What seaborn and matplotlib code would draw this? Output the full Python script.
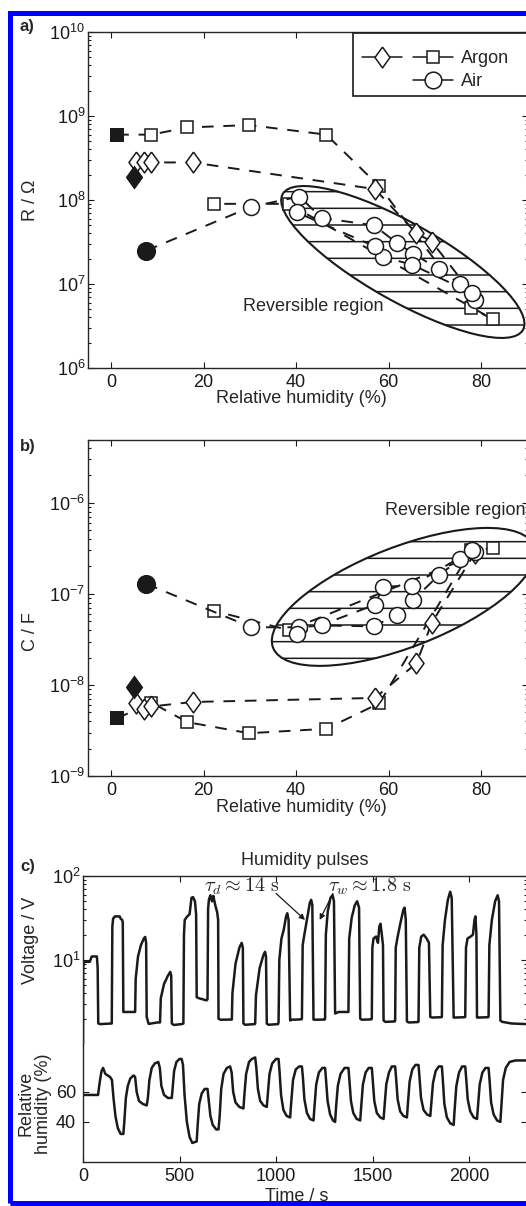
import matplotlib
matplotlib.use("Agg")
import matplotlib.pyplot as plt
import matplotlib.transforms as mtransforms
from matplotlib.patches import Ellipse, Rectangle
from matplotlib.lines import Line2D
from matplotlib.legend_handler import HandlerTuple
from matplotlib.ticker import NullFormatter
import seaborn as sns

# panel a/b points: relative humidity (%), resistance (Ohm), capacitance (F)
rh_sq = [1.3, 8.7, 16.5, 29.8, 46.5, 58.0, 77.8, 82.5, 38.4, 22.3]
r_sq = [6.0e8, 6.0e8, 7.3e8, 7.8e8, 6.0e8, 1.45e8, 5.2e6, 3.8e6, 9.0e7, 9.0e7]
c_sq = [4.3e-9, 6.4e-9, 3.9e-9, 2.95e-9, 3.3e-9, 6.3e-9, 3.0e-7, 3.2e-7, 4.0e-8, 6.5e-8]

rh_di = [4.9, 5.3, 7.0, 8.7, 17.6, 57.0, 66.0, 69.3, 78.6]
r_di = [1.9e8, 2.8e8, 2.8e8, 2.8e8, 2.8e8, 1.35e8, 4.0e7, 3.2e7, 7.0e6]
c_di = [9.5e-9, 6.3e-9, 5.4e-9, 5.8e-9, 6.5e-9, 7.2e-9, 1.73e-8, 4.8e-8, 2.8e-7]

rh_air = [7.6, 30.3, 40.7, 45.5, 56.8, 61.7, 65.3, 70.8, 75.4, 78.6, 78.0, 65.0, 58.8, 57.0, 40.2]
r_air = [2.5e7, 8.3e7, 1.1e8, 6.1e7, 5.0e7, 3.1e7, 2.3e7, 1.5e7, 1.0e7, 6.4e6, 7.8e6,
         1.7e7, 2.1e7, 2.8e7, 7.1e7]
c_air = [1.29e-7, 4.3e-8, 4.3e-8, 4.5e-8, 4.4e-8, 5.9e-8, 8.6e-8, 1.6e-7, 2.4e-7, 2.9e-7,
         3.0e-7, 1.23e-7, 1.2e-7, 7.6e-8, 3.6e-8]

# panel c: voltage trace (s, V)
v_t = [0, 1, 4, 35, 45, 72, 76, 79, 90, 145,
       149, 152, 156, 165, 190, 195, 203, 206, 209, 218, 268,
       270, 273, 285, 300, 315, 322, 327, 330, 340, 385,
       399, 403, 420, 440, 452, 457, 460, 470, 511,
       520, 523, 527, 540, 552, 562, 570, 580, 586, 589, 600, 640,
       645, 648, 652, 660, 668, 675, 685, 695, 700, 702, 712, 760,
       771, 774, 790, 810, 822, 828, 831, 840, 890,
       892, 896, 915, 935, 943, 948, 952, 960, 1010,
       1013, 1017, 1028, 1040, 1052, 1058, 1065, 1073, 1082, 1132,
       1134, 1138, 1145, 1160, 1175, 1182, 1188, 1194, 1203, 1252,
       1254, 1258, 1268, 1282, 1293, 1300, 1306, 1324, 1373,
       1375, 1379, 1392, 1408, 1420, 1430, 1436, 1445, 1494,
       1496, 1499, 1505, 1518, 1528, 1535, 1541, 1548, 1554, 1557, 1566, 1615,
       1617, 1620, 1630, 1645, 1660, 1666, 1672, 1678, 1687, 1736,
       1738, 1742, 1752, 1765, 1780, 1792, 1799, 1808, 1857,
       1859, 1863, 1875, 1890, 1902, 1910, 1920, 1928, 1978,
       1980, 1984, 1992, 2008, 2020, 2028, 2033, 2038, 2041, 2049, 2099,
       2101, 2105, 2118, 2135, 2148, 2155, 2162, 2172, 2220, 2300]
v_v = [1.0, 8.0, 9.5, 9.5, 11, 11, 8, 1.75, 1.72, 1.75,
       1.75, 25, 31, 33, 33, 31, 30, 28, 2.4, 2.4, 2.4,
       2.4, 6, 11, 15, 18, 18.8, 16, 2.1, 1.73, 1.8,
       1.8, 3.5, 5.2, 6.5, 7.2, 6.5, 1.75, 1.68, 1.72,
       1.75, 20, 30, 33, 35, 55, 56, 50, 35, 3.6, 3.5, 3.3,
       3.4, 40, 52, 59, 50, 58, 45, 37, 30, 2.0, 1.94, 1.95,
       1.95, 4, 9, 14, 16, 14, 1.75, 1.69, 1.72,
       1.75, 3.8, 8, 11.5, 12.5, 11, 1.75, 1.69, 1.72,
       1.8, 10, 18, 23, 33, 36, 30, 1.9, 1.94, 1.96,
       2.0, 15, 19, 30, 48, 52, 45, 1.95, 1.94, 1.95,
       2.0, 20, 38, 55, 59, 50, 2.3, 2.4, 2.4,
       2.4, 18, 32, 45, 50, 42, 2.0, 1.94, 1.96,
       2.0, 14, 18, 19, 16, 25, 27, 20, 15, 1.9, 1.83, 1.85,
       1.9, 14, 19, 28, 40, 42, 30, 1.85, 1.8, 1.82,
       1.85, 14, 19, 20, 18, 16, 2.1, 2.06, 2.08,
       2.1, 15, 30, 52, 65, 55, 2.06, 2.06, 2.08,
       2.1, 14, 18, 19, 20, 30, 33, 20, 2.06, 2.06, 2.08,
       2.1, 15, 30, 50, 59, 50, 1.9, 1.83, 1.75, 1.72]

# panel c: relative humidity trace (s, %)
h_t = [0, 78, 86, 96, 104, 116, 140, 150, 158, 168, 180, 195, 209,
       214, 222, 232, 245, 262, 270, 278, 290, 310, 330,
       336, 344, 356, 372, 390, 398, 406, 420, 440, 460,
       464, 472, 484, 500, 511, 518, 526, 538, 552, 566, 589,
       594, 602, 615, 630, 645, 650, 660, 672, 690, 702,
       708, 716, 728, 745, 762, 770, 778, 790, 810, 831,
       836, 845, 860, 875, 892, 898, 906, 918, 935, 952,
       957, 966, 980, 1000, 1013, 1018, 1026, 1038, 1055, 1073,
       1078, 1088, 1102, 1120, 1134, 1139, 1147, 1160, 1176, 1194,
       1199, 1208, 1222, 1240, 1254, 1259, 1267, 1280, 1295, 1306,
       1311, 1320, 1334, 1355, 1375, 1380, 1388, 1400, 1418, 1436,
       1441, 1450, 1464, 1480, 1496, 1501, 1509, 1522, 1540, 1557,
       1562, 1571, 1585, 1600, 1617, 1622, 1630, 1643, 1660, 1678,
       1683, 1692, 1706, 1722, 1738, 1743, 1751, 1764, 1782, 1799,
       1804, 1813, 1827, 1843, 1859, 1864, 1872, 1885, 1903, 1920,
       1925, 1934, 1948, 1964, 1980, 1985, 1993, 2006, 2024, 2041,
       2046, 2055, 2069, 2085, 2101, 2106, 2114, 2127, 2145, 2162,
       2167, 2176, 2190, 2210, 2240, 2300]
h_v = [58, 58, 66, 74, 76, 72, 70, 68, 56, 44, 36, 32, 32,
       40, 56, 64, 69, 71, 70, 60, 54, 52, 51,
       56, 68, 76, 79, 80, 76, 64, 58, 56, 56,
       62, 74, 80, 82, 82, 78, 58, 40, 30, 26, 27,
       38, 52, 59, 62, 62, 56, 44, 38, 35, 35,
       44, 62, 72, 76, 77, 73, 60, 53, 50, 49,
       58, 72, 80, 82, 83, 76, 62, 54, 51, 50,
       58, 72, 79, 82, 82, 74, 58, 48, 44, 43,
       52, 68, 75, 77, 77, 70, 55, 46, 42, 41,
       50, 65, 73, 76, 76, 68, 54, 45, 41, 40,
       50, 64, 72, 76, 76, 68, 54, 46, 42, 41,
       50, 65, 73, 76, 76, 68, 54, 46, 43, 42,
       50, 65, 73, 77, 77, 69, 55, 47, 44, 43,
       52, 67, 75, 78, 78, 70, 56, 48, 45, 44,
       52, 66, 74, 77, 77, 68, 52, 43, 39, 38,
       48, 64, 73, 77, 77, 69, 55, 47, 43, 42,
       50, 65, 73, 76, 76, 68, 53, 45, 41, 40,
       50, 68, 76, 80, 81, 81]

sns.set_style("ticks")
plt.rcParams['font.family'] = ['Liberation Sans', 'DejaVu Sans']
plt.rcParams['mathtext.fontset'] = 'custom'
plt.rcParams['mathtext.rm'] = 'Liberation Sans'
plt.rcParams['mathtext.it'] = 'Liberation Sans:italic'
plt.rcParams['hatch.linewidth'] = 1.1
plt.rcParams['axes.edgecolor'] = '0.15'

W, H = 526, 1206
fig = plt.figure(figsize=(W / 100, H / 100), dpi=100)


def box(l, t, r, b):
    return [l / W, 1 - b / H, (r - l) / W, (b - t) / H]


ax_a = fig.add_axes(box(88, 32, 527.5, 368))
ax_b = fig.add_axes(box(88, 440, 527.5, 776))
ax_v = fig.add_axes(box(83, 876, 527, 1045))
ax_h = fig.add_axes(box(83, 1045, 527, 1162))

FS = 13
INK = '0.1'
diamond = [(0, 1), (0.72, 0), (0, -1), (-0.72, 0), (0, 1)]


def style(ax):
    ax.tick_params(which='both', direction='in', top=True, right=True,
                   labelsize=FS, width=0.8, colors=INK)
    ax.tick_params(which='major', length=4.5)
    ax.tick_params(which='minor', length=2.3)
    ax.tick_params(axis='y', pad=2)
    ax.tick_params(axis='x', pad=4.5)
    for s in ax.spines.values():
        s.set_linewidth(1.0)


def series(ax, x, y, marker, ms):
    sns.lineplot(x=x, y=y, ax=ax, sort=False, estimator=None, color=INK,
                 linewidth=1.4, linestyle=(0, (6, 5)), marker=marker,
                 markersize=ms, markerfacecolor='white', markeredgecolor=INK,
                 markeredgewidth=1.1, zorder=3)


def filled(ax, x, y, marker, s):
    sns.scatterplot(x=[x], y=[y], ax=ax, marker=marker, s=s, color=INK,
                    edgecolor=INK, linewidth=0, zorder=4, legend=False)


def region(ax, cx, cy, a, b, ang):
    tr = fig.dpi_scale_trans + mtransforms.ScaledTranslation(cx, cy, ax.transData)
    e = Ellipse((0, 0), 2 * a / 100, 2 * b / 100, angle=ang, transform=tr,
                facecolor='white', edgecolor=INK, lw=1.5, hatch='-', zorder=2)
    ax.add_patch(e)


for ax, ys_sq, ys_di, ys_air in [(ax_a, r_sq, r_di, r_air), (ax_b, c_sq, c_di, c_air)]:
    ax.set_yscale('log')
    ax.set_xlim(-5, 90)
    series(ax, rh_sq, ys_sq, 's', 8.5)
    series(ax, rh_di, ys_di, diamond, 15)
    series(ax, rh_air, ys_air, 'o', 11.5)
    filled(ax, rh_sq[0], ys_sq[0], 's', 105)
    filled(ax, rh_di[0], ys_di[0], diamond, 300)
    filled(ax, rh_air[0], ys_air[0], 'o', 190)
    style(ax)
    ax.set_xticks([0, 20, 40, 60, 80])
    ax.yaxis.set_minor_formatter(NullFormatter())
    ax.set_xlabel('Relative humidity (%)', fontsize=FS)

ax_a.set_ylim(1e6, 1e10)
ax_a.set_yticks([1e6, 1e7, 1e8, 1e9, 1e10])
ax_a.set_yticklabels([r'$10^{6}$', r'$10^{7}$', r'$10^{8}$', r'$10^{9}$', r'$10^{10}$'])
ax_a.set_ylabel('R / Ω', fontsize=FS)
ax_b.set_ylim(1e-9, 4.9e-6)
ax_b.set_yticks([1e-9, 1e-8, 1e-7, 1e-6])
ax_b.set_yticklabels([r'$10^{-9}$', r'$10^{-8}$', r'$10^{-7}$', r'$10^{-6}$'])
ax_b.set_ylabel('C / F', fontsize=FS)

ax_a.xaxis.set_label_coords(0.486, -0.064)
ax_b.xaxis.set_label_coords(0.486, -0.067)
ax_a.yaxis.set_label_coords(-0.112, 0.5)
ax_b.yaxis.set_label_coords(-0.112, 0.43)

region(ax_a, 63.05, 10 ** 7.262, 138, 39, -29.5)
region(ax_b, 63.2, 10 ** -7.033, 140, 50, 21.3)
ax_a.text(28.4, 10 ** 6.73, 'Reversible region', fontsize=FS, ha='left', va='center', zorder=5)
ax_b.text(59.2, 10 ** -6.08, 'Reversible region', fontsize=FS, ha='left', va='center', zorder=5)

# legend with a white box running out past the right edge
ax_a.add_patch(Rectangle((0.603, 0.8095), 0.6, 0.1875, transform=ax_a.transAxes,
                         facecolor='white', edgecolor=INK, lw=1.2, zorder=10, clip_on=False))
h_d = Line2D([], [], color=INK, lw=1.1, marker=diamond, ms=15, mfc='w', mec=INK, mew=1.1)
h_s = Line2D([], [], color=INK, lw=1.1, marker='s', ms=9, mfc='w', mec=INK, mew=1.1)
h_o = Line2D([], [], color=INK, lw=1.1, marker='o', ms=12, mfc='w', mec=INK, mew=1.1)
blank = Line2D([], [], linestyle='none')
leg = ax_a.legend([(h_d, h_s), (blank, h_o)], ['Argon', 'Air'],
                  handler_map={tuple: HandlerTuple(ndivide=None, pad=0.61)},
                  loc='upper left', bbox_to_anchor=(0.585, 0.997), frameon=False,
                  handlelength=5.0, handletextpad=0.45, borderpad=0.45,
                  labelspacing=0.35, fontsize=FS)
leg.set_zorder(11)

# panel c
ax_v.set_yscale('log')
sns.lineplot(x=v_t, y=v_v, ax=ax_v, sort=False, estimator=None, color=INK, linewidth=1.8)
ax_v.set_xlim(0, 2300)
ax_v.set_ylim(0.97, 100)
style(ax_v)
ax_v.set_yticks([10, 100])
ax_v.set_yticklabels([r'$10^{1}$', r'$10^{2}$'])
ax_v.yaxis.set_minor_formatter(NullFormatter())
ax_v.set_xticks([500, 1000, 1500, 2000])
ax_v.tick_params(axis='x', bottom=False, labelbottom=False)
ax_v.spines['bottom'].set_visible(False)
ax_v.set_ylabel('Voltage / V', fontsize=FS)
ax_v.yaxis.set_label_coords(-0.098, 0.62)
ax_v.set_title('Humidity pulses', fontsize=FS, pad=8)

ax_v.text(824, 76, r'$\tau_d \approx 14\ \mathrm{s}$', fontsize=14.5, ha='center',
          va='center', math_fontfamily='cm')
ax_v.text(1487, 76, r'$\tau_w \approx 1.8\ \mathrm{s}$', fontsize=14.5, ha='center',
          va='center', math_fontfamily='cm')
arrow = dict(arrowstyle='-|>', lw=0.9, color=INK, mutation_scale=8, shrinkA=0, shrinkB=0)
ax_v.annotate('', xy=(1150, 30), xytext=(1000, 62), arrowprops=arrow)
ax_v.annotate('', xy=(1226, 30), xytext=(1295, 62), arrowprops=arrow)

sns.lineplot(x=h_t, y=h_v, ax=ax_h, sort=False, estimator=None, color=INK, linewidth=1.8)
ax_h.set_xlim(0, 2300)
ax_h.set_ylim(13.3, 91.3)
style(ax_h)
ax_h.tick_params(axis='x', top=False)
ax_h.tick_params(axis='y', pad=5)
ax_h.spines['top'].set_visible(False)
ax_h.set_yticks([40, 60])
ax_h.set_xticks([0, 500, 1000, 1500, 2000])
ax_h.set_xlabel('Time / s', fontsize=FS)
ax_h.xaxis.set_label_coords(0.482, -0.225)
ax_h.set_ylabel('Relative\nhumidity (%)', fontsize=FS, linespacing=1.05)
ax_h.yaxis.set_label_coords(-0.07, 0.5)

for lab, y in [('a)', 26), ('b)', 447), ('c)', 867)]:
    fig.text(20 / W, 1 - y / H, lab, fontsize=12, fontweight='bold', va='center', ha='left')

fig.patches.append(Rectangle((10 / W, 3.5 / H), 2, 1 - 16 / H, transform=fig.transFigure,
                             fill=False, edgecolor='#0000ff', lw=3.6))

fig.savefig('out.png', dpi=100)
